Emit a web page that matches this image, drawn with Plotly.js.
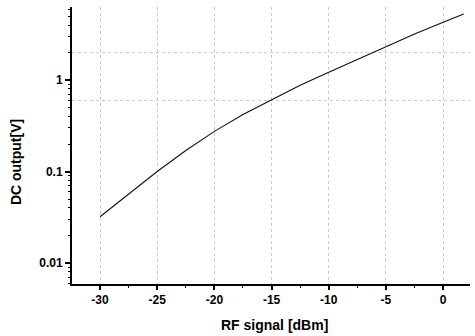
<!DOCTYPE html>
<html><head><meta charset="utf-8">
<script src="https://cdn.plot.ly/plotly-3.0.1.min.js"></script>
<style>html,body{margin:0;padding:0;background:#fff}#c{width:475px;height:336px}</style>
</head><body><div id="c"></div>
<script>
const rfSignal = [-30, -27.5, -25, -22.5, -20, -17.5, -15, -12.5, -10, -7.5, -5, -2.5, 0, 1.8];
const dcOutput = [0.032, 0.057, 0.10, 0.17, 0.275, 0.42, 0.61, 0.88, 1.22, 1.68, 2.3, 3.2, 4.3, 5.3];
const xTicks = [-30, -25, -20, -15, -10, -5, 0];
const xTickText = ['-30', '-25', '-20', '-15', '-10', '-5', '0'];
const xMinor = [-32.5, -27.5, -22.5, -17.5, -12.5, -7.5, -2.5];
const yTicks = [0.01, 0.1, 1];
const yTickText = ['0.01', '0.1', '1'];
const yMinor = [0.006, 0.007, 0.008, 0.009, 0.02, 0.03, 0.04, 0.05, 0.06, 0.07, 0.08, 0.09,
                0.2, 0.3, 0.4, 0.5, 0.6, 0.7, 0.8, 0.9, 2, 3, 4, 5, 6];
const xTitle = 'RF signal [dBm]';
const yTitle = 'DC output[V]';

const fam = 'Liberation Sans, Arial, sans-serif';
const xRange = [-32.45, 2.35];
const yRange = [-2.23, 0.80];
Plotly.newPlot('c', [{
  x: rfSignal, y: dcOutput, type: 'scatter', mode: 'lines',
  line: {color: '#111', width: 1.1}
}, {
  x: [], y: [], xaxis: 'x2', yaxis: 'y2', type: 'scatter', mode: 'lines'
}], {
  width: 475, height: 336,
  margin: {l: 72, r: 5, t: 7, b: 52},
  showlegend: false,
  font: {family: fam, color: '#000'},
  xaxis: {
    range: xRange, tickvals: xTicks, ticktext: xTickText,
    showline: true, linecolor: 'black', linewidth: 2,
    ticks: 'outside', ticklen: 4, tickwidth: 1.5, tickcolor: 'black',
    tickfont: {family: fam, size: 12, weight: 'bold'},
    showgrid: true, gridcolor: '#c8c8c8', griddash: 'dot', zeroline: false
  },
  yaxis: {
    type: 'log', range: yRange, tickvals: yTicks, ticktext: yTickText,
    showline: true, linecolor: 'black', linewidth: 2,
    ticks: 'outside', ticklen: 5, tickwidth: 1.5, tickcolor: 'black',
    tickfont: {family: fam, size: 12, weight: 'bold'},
    showgrid: false, zeroline: false
  },
  xaxis2: {
    overlaying: 'x', anchor: 'y', range: xRange, tickvals: xMinor,
    ticks: 'outside', ticklen: 2.5, tickwidth: 1, tickcolor: 'black',
    showticklabels: false, showgrid: false, zeroline: false, showline: false
  },
  yaxis2: {
    overlaying: 'y', anchor: 'x', type: 'log', range: yRange, tickvals: yMinor,
    ticks: 'outside', ticklen: 3, tickwidth: 1, tickcolor: 'black',
    showticklabels: false, showgrid: false, zeroline: false, showline: false
  },
  shapes: [
    {type: 'line', xref: 'paper', x0: 0, x1: 1, yref: 'y', y0: 2, y1: 2, line: {color: '#c8c8c8', width: 1, dash: 'dot'}, layer: 'below'},
    {type: 'line', xref: 'paper', x0: 0, x1: 1, yref: 'y', y0: 0.6, y1: 0.6, line: {color: '#c8c8c8', width: 1, dash: 'dot'}, layer: 'below'}
  ],
  annotations: [
    {text: xTitle, xref: 'paper', yref: 'paper', x: 0.51, y: 0, xanchor: 'center', yanchor: 'top', yshift: -31, showarrow: false,
     font: {family: fam, size: 14, weight: 'bold', color: '#000'}},
    {text: yTitle, xref: 'paper', yref: 'paper', x: 0, y: 0.44, xanchor: 'center', yanchor: 'middle', xshift: -56, textangle: -90, showarrow: false,
     font: {family: fam, size: 14, weight: 'bold', color: '#000'}}
  ]
}, {displayModeBar: false});
</script></body></html>
